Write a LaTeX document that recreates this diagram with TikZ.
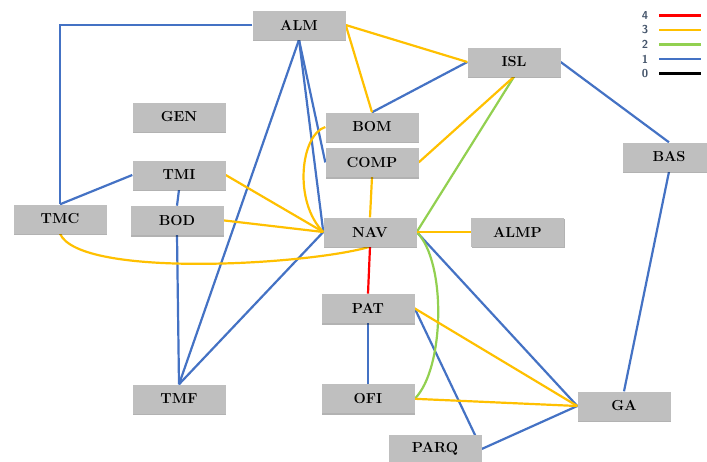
\documentclass[tikz,border=0pt]{standalone}
\usepackage{tikz}
\usetikzlibrary{positioning,shadows,backgrounds}
\definecolor{lnkblue}{HTML}{4472C4}
\definecolor{lnkyellow}{HTML}{FFC000}
\definecolor{lnkgreen}{HTML}{92D050}
\definecolor{lnkred}{HTML}{FF0000}
\definecolor{boxgray}{HTML}{BFBFBF}
\definecolor{slate}{HTML}{44546A}

\begin{document}
\begin{tikzpicture}[x=1pt, y=-1pt,
  box/.style={fill=boxgray, minimum width=93pt, minimum height=29pt, inner sep=0pt,
    font=\fontsize{14.5}{16}\selectfont\bfseries,
    drop shadow={shadow xshift=0.8pt, shadow yshift=-1.8pt, fill=black, opacity=0.3}},
  w1/.style={lnkblue, line width=2.2pt},
  w2/.style={lnkgreen, line width=2.2pt},
  w3/.style={lnkyellow, line width=2.2pt},
  w4/.style={lnkred, line width=2.2pt},
  key/.style={font=\fontsize{11.5}{12}\selectfont\sffamily\bfseries, text=slate, inner sep=1pt}
]
\useasboundingbox (0,0) rectangle (707,461);

\node[box] (alm) at (299,25) {ALM};
\node[box] (isl) at (514,62) {ISL};
\node[box] (gen) at (179,117) {GEN};
\node[box] (bom) at (372,127) {BOM};
\node[box, below=6pt of bom] (comp) {COMP};
\node[box] (bas) at (669,157) {BAS};
\node[box] (tmi) at (179,175) {TMI};
\node[box, below=16pt of tmi, xshift=-2pt] (bod) {BOD};
\node[box] (tmc) at (60,219) {TMC};
\node[box] (nav) at (370,232) {NAV};
\node[box, right=54pt of nav] (almp) {ALMP};
\node[box, below=47pt of nav, xshift=-2pt] (pat) {PAT};
\node[box, below=61pt of pat] (ofi) {OFI};
\node[box] (tmf) at (179,399) {TMF};
\node[box] (ga) at (624,406) {GA};
\node[box] (parq) at (435,449) {PARQ};

% legend
\foreach \n/\c [count=\i from 0] in {4/lnkred, 3/lnkyellow, 2/lnkgreen, 1/lnkblue, 0/black} {
  \node[key] (key\n) at (645,15.5+14.5*\i) {\n};
  \coordinate[right=10pt of key\n] (ks\n);
  \coordinate[right=42pt of ks\n] (ke\n);
  \draw[draw=\c, line width=2.2pt] (ks\n) -- (ke\n);
}

\begin{scope}[on background layer]
% weight 1
\draw[w1] (alm.west) -| (tmc.north);
\draw[w1] (alm.south) -- (tmf.north);
\draw[w1] (alm.south) -- (comp.west);
\draw[w1] (alm.south) -- (nav.west);
\draw[w1] (isl.west) -- (bom.north);
\draw[w1] (isl.east) -- (bas.north);
\draw[w1] (bas.south) -- (ga.north);
\draw[w1] (tmc.north) -- (tmi.west);
\draw[w1] (tmi.south) -- (bod.north);
\draw[w1] (bod.south) -- (tmf.north);
\draw[w1] (nav.west) -- (tmf.north);
\draw[w1] (nav.east) -- (ga.west);
\draw[w1] (pat.south) -- (ofi.north);
\draw[w1] (pat.east) -- (parq.east);
\draw[w1] (parq.east) -- (ga.west);
% weight 2
\draw[w2] (nav.east) -- (isl.south);
\draw[w2] (nav.east) .. controls +(30,30) and +(30,-30) .. (ofi.east);
% weight 3
\draw[w3] (alm.east) -- (isl.west);
\draw[w3] (alm.east) -- (bom.north);
\draw[w3] (comp.east) -- (isl.south);
\draw[w3] (comp.south) -- (nav.north);
\draw[w3] (bom.west) .. controls +(-25,8) and +(-30,-30) .. (nav.west);
\draw[w3] (tmi.east) -- (nav.west);
\draw[w3] (bod.east) -- (nav.west);
\draw[w3] (tmc.south) .. controls +(20,45) and +(-60,18) .. (nav.south);
\draw[w3] (nav.east) -- (almp.west);
\draw[w3] (pat.east) -- (ga.west);
\draw[w3] (ofi.east) -- (ga.west);
% weight 4
\draw[w4] (nav.south) -- (pat.north);
\end{scope}
\end{tikzpicture}
\end{document}
